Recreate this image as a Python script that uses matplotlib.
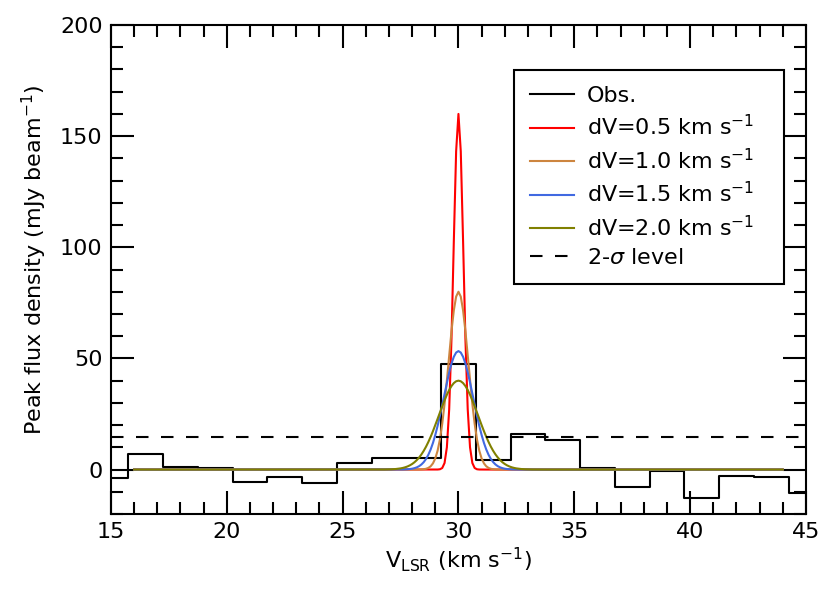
import numpy as np
import matplotlib
matplotlib.use("Agg")
import matplotlib.pyplot as plt
from matplotlib.ticker import MultipleLocator

# observed spectrum, channel centres (km/s) and peak flux (mJy/beam)
vel = [15.0, 16.5, 18.0, 19.5, 21.0, 22.5, 24.0, 25.5, 27.0, 28.5, 30.0,
       31.5, 33.0, 34.5, 36.0, 37.5, 39.0, 40.5, 42.0, 43.5, 45.0]
flux = [-3.7, 7.1, 1.0, 0.7, -5.8, -3.4, -6.0, 2.9, 5.0, 5.4, 47.5,
        4.3, 15.8, 13.3, 0.9, -8.0, -0.7, -12.6, -3.0, -3.3, -10.6]

# gaussian models: line width (FWHM) and peak, centred at 30 km/s
dv = [0.5, 1.0, 1.5, 2.0]
peak = [160.0, 80.0, 53.3, 40.0]
v0 = 30.0
colors = ["red", "peru", "royalblue", "olive"]
sigma2 = 14.6

fs = 16

fig = plt.figure(figsize=(8.3, 5.93), dpi=100)
ax = fig.add_axes([0.1337, 0.1332, 0.8373, 0.8246])

ax.plot(vel, flux, drawstyle="steps-mid", color="black", lw=1.5, label="Obs.")

vm = np.arange(16.0, 44.001, 0.1)
for w, p, c in zip(dv, peak, colors):
    s = w / 2.3548
    ax.plot(vm, p * np.exp(-0.5 * ((vm - v0) / s) ** 2), color=c, lw=1.5,
            label="dV=%.1f km s$^{-1}$" % w)

ax.plot([15, 45], [sigma2, sigma2], color="black", lw=1.5, dashes=(6, 6),
        label=r"2-$\sigma$ level")

ax.set_xlim(15, 45)
ax.set_ylim(-20, 200)
ax.xaxis.set_major_locator(MultipleLocator(5))
ax.xaxis.set_minor_locator(MultipleLocator(1))
ax.yaxis.set_major_locator(MultipleLocator(50))
ax.yaxis.set_minor_locator(MultipleLocator(10))
ax.tick_params(which="both", direction="in", top=True, right=True, width=1.5)
ax.tick_params(which="major", length=16.5, labelsize=fs, pad=6)
ax.tick_params(which="minor", length=8.5)
for sp in ax.spines.values():
    sp.set_linewidth(1.5)

ax.set_xlabel(r"V$_{\rm LSR}$ (km s$^{-1}$)", fontsize=fs, labelpad=2)
ax.set_ylabel(r"Peak flux density (mJy beam$^{-1}$)", fontsize=fs)
ax.yaxis.set_label_coords(-0.0885, 0.519)

leg = ax.legend(loc="upper left", bbox_to_anchor=(0.580, 0.0, 0.3885, 0.908),
                mode="expand", borderaxespad=0, fancybox=False,
                edgecolor="black", framealpha=1, fontsize=fs,
                handlelength=2.0, handletextpad=0.55, borderpad=0.72,
                labelspacing=0.37)
leg.get_frame().set_linewidth(1.5)

fig.savefig("out.png", dpi=100)
